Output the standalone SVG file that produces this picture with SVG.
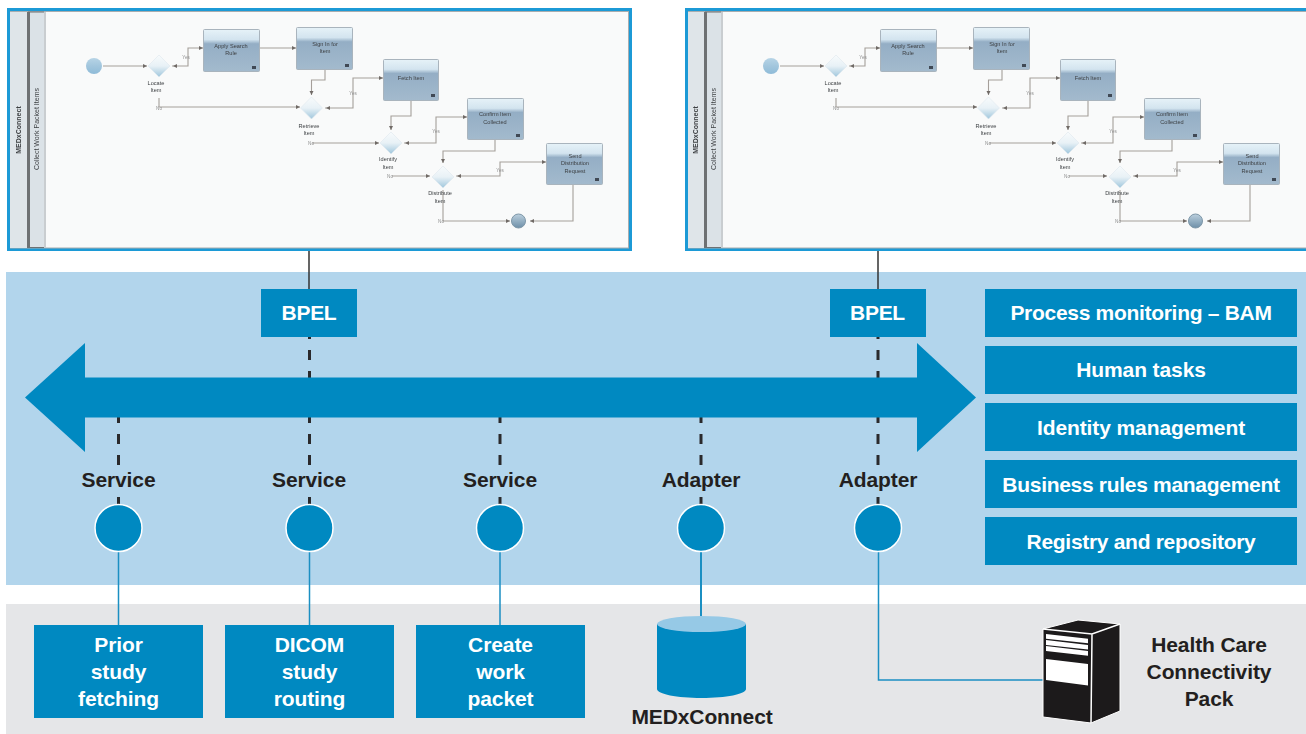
<svg xmlns="http://www.w3.org/2000/svg" width="1306" height="734" viewBox="0 0 1306 734">
<style>
text{font-family:"Liberation Sans",Arial,sans-serif}
.b{font-size:21px;font-weight:700;text-anchor:middle;letter-spacing:-.1px}
.c{letter-spacing:-.3px}
.w{fill:#fff}
.k{fill:#231f20}
.box{fill:#0089c1}
.dash{stroke:#2a2a2c;stroke-width:3;stroke-dasharray:10 11;fill:none}
.solid{stroke:#333;stroke-width:1.5;fill:none}
.link{stroke:#1b8fc2;stroke-width:1.5;fill:none}
.dot{fill:#0089c1;stroke:#fff;stroke-width:1.5}
.flow{fill:none;stroke:#a59f9a;stroke-width:1.1;marker-end:url(#ah)}
.yes{marker-start:url(#ahr)}
.task{fill:url(#tg);stroke:#a9b4bd;stroke-width:1}
.gw{fill:url(#gg);stroke:#dfe8ee;stroke-width:.6}
.t{font-size:5.6px;fill:#3c3f42;text-anchor:middle}
.l{font-size:4.6px;fill:#8f8f8f;text-anchor:middle}
.soft{filter:url(#bl)}
</style>
<defs>
<filter id="bl" x="-5%" y="-5%" width="110%" height="110%"><feGaussianBlur stdDeviation="0.5"/></filter>
<linearGradient id="tg" x1="0" y1="0" x2="0" y2="1">
<stop offset="0" stop-color="#e6f2f8"/><stop offset=".24" stop-color="#d3e4ef"/><stop offset=".34" stop-color="#94aec5"/><stop offset="1" stop-color="#a3bacd"/>
</linearGradient>
<linearGradient id="gg" x1="0" y1="0" x2="0" y2="1">
<stop offset="0" stop-color="#f8fbfc"/><stop offset=".5" stop-color="#e8f1f6"/><stop offset="1" stop-color="#9fc6dc"/>
</linearGradient>
<linearGradient id="sg" x1="0" y1="0" x2="0" y2="1">
<stop offset="0" stop-color="#b7d4e6"/><stop offset=".5" stop-color="#a2c6dd"/><stop offset="1" stop-color="#8fbbd8"/>
</linearGradient>
<linearGradient id="eg" x1="0" y1="0" x2="0" y2="1">
<stop offset="0" stop-color="#bcd0de"/><stop offset="1" stop-color="#6d8fa8"/>
</linearGradient>
<marker id="ah" markerWidth="5" markerHeight="5" refX="4" refY="2" orient="auto" markerUnits="userSpaceOnUse"><path d="M0 0L4 2L0 4z" fill="#6f6a66"/></marker>
<marker id="ahr" markerWidth="5" markerHeight="5" refX="-1" refY="2" orient="auto" markerUnits="userSpaceOnUse" overflow="visible"><path d="M4 0L0 2L4 4z" fill="#6f6a66"/></marker>
</defs>

<rect width="1306" height="734" fill="#fff"/>
<rect id="bus-band" x="6" y="272" width="1300" height="313" fill="#b2d5ec"/>
<rect id="resource-band" x="6" y="604" width="1300" height="130" fill="#e5e6e8"/>

<g id="connectors">
<path class="solid" d="M309 251V289M878 251V289"/>
<path class="dash" d="M309.500 329V465M878 329V465"/>
<path class="dash" d="M118.500 413V465M500 413V465M701 413V465"/>
<path class="dash" style="stroke-dasharray:none" d="M118.500 497V505M309.500 497V505M500 497V505M701 497V505M878 497V505"/>
<path class="link" d="M118.500 552V625M309.500 552V625M500 552V625"/>
<path class="link" style="stroke-width:2" d="M701 552V618"/>
<path class="link" d="M878.500 552V680H1043"/>
</g>

<path id="bus-arrow" class="box" d="M25 397.500L85 343V377.500H917V343L976 397.500L917 452V417.500H85V452Z"/>

<g id="panel-1" class="soft">
<rect x="8.500" y="9.500" width="622" height="240" fill="#f9fafa" stroke="#1c9ad6" stroke-width="3"/>
<rect x="10.500" y="11.500" width="618" height="236.500" fill="none" stroke="#a9adaf" stroke-width="1"/>
<rect x="10" y="12" width="17" height="236" fill="#dfe5e9"/>
<rect x="27" y="12" width="3" height="236" fill="#6e7173"/>
<rect x="30" y="12" width="14" height="236" fill="#dbe2e7"/>
<rect x="44" y="12" width="2" height="236" fill="#c9cdd0"/>
<path d="M28 12H44M28 247.500H44" stroke="#6e7173" stroke-width="1"/>
<text class="t" style="font-weight:700;font-size:7px" transform="translate(21,130) rotate(-90)">MEDxConnect</text>
<text class="t" style="font-size:7px" transform="translate(39,129) rotate(-90)">Collect Work Packet Items</text>
<g>
<path class="flow" d="M103 66H147"/>
<path class="flow yes" d="M172 66H188V48H203"/>
<path class="flow" d="M159 98V107H300"/>
<path class="flow" d="M260 48H296"/>
<path class="flow" d="M325 70V80H311.500V95"/>
<path class="flow yes" d="M325 108H353V78H383"/>
<path class="flow" d="M312 143H379"/>
<path class="flow" d="M411 100V116H391V130"/>
<path class="flow yes" d="M404 143H436V117H467"/>
<path class="flow" d="M392 176H430"/>
<path class="flow" d="M495 140V151H443V163"/>
<path class="flow yes" d="M456 176H500V162H546"/>
<path class="flow" d="M443 190V221H510"/>
<path class="flow" d="M573 185V221H530"/>
</g>
<circle cx="94" cy="66" r="8" fill="url(#sg)"/>
<circle cx="518.500" cy="221" r="7" fill="url(#eg)" stroke="#7e97a8"/>
<path class="gw" d="M159 55L170 66L159 77L148 66Z"/>
<path class="gw" d="M311.500 97L322.500 108L311.500 119L300.500 108Z"/>
<path class="gw" d="M391 132L402 143L391 154L380 143Z"/>
<path class="gw" d="M443 166L454 177L443 188L432 177Z"/>
<rect class="task" x="203.500" y="29.500" width="56" height="42" rx="1"/>
<rect class="task" x="296.500" y="27.500" width="56" height="42" rx="1"/>
<rect class="task" x="383.500" y="59.500" width="55" height="41" rx="1"/>
<rect class="task" x="467.500" y="98.500" width="56" height="41" rx="1"/>
<rect class="task" x="546.500" y="143.500" width="56" height="41" rx="1"/>
<path fill="#3f4a55" d="M252 66h4v3h-4zM345 64h4v3h-4zM431 94h4v3h-4zM516 134h4v3h-4zM595 178h4v3h-4z"/>
<text class="t" x="231" y="48">Apply Search</text><text class="t" x="231" y="55">Rule</text>
<text class="t" x="325" y="46">Sign In for</text><text class="t" x="325" y="53">Item</text>
<text class="t" x="411" y="80">Fetch Item</text>
<text class="t" x="495" y="116">Confirm Item</text><text class="t" x="495" y="124">Collected</text>
<text class="t" x="575" y="158">Send</text><text class="t" x="575" y="165">Distribution</text><text class="t" x="575" y="173">Request</text>
<text class="t" x="156" y="85">Locate</text><text class="t" x="156" y="92">Item</text>
<text class="t" x="309" y="128">Retrieve</text><text class="t" x="309" y="135">Item</text>
<text class="t" x="388" y="161">Identify</text><text class="t" x="388" y="169">Item</text>
<text class="t" x="440" y="195">Distribute</text><text class="t" x="440" y="203">Item</text>
<text class="l" x="186" y="59">Yes</text><text class="l" x="353" y="95">Yes</text><text class="l" x="436" y="133">Yes</text><text class="l" x="500" y="172">Yes</text>
<text class="l" x="159" y="110">No</text><text class="l" x="311" y="145">No</text><text class="l" x="390" y="178">No</text><text class="l" x="441" y="223">No</text>
</g>

<g id="panel-2" class="soft" transform="translate(677,0)">
<rect x="9.500" y="9.500" width="622" height="240" fill="#f9fafa" stroke="#1c9ad6" stroke-width="3"/>
<rect x="11.500" y="11.500" width="618" height="236.500" fill="none" stroke="#a9adaf" stroke-width="1"/>
<rect x="11" y="12" width="16" height="236" fill="#dfe5e9"/>
<rect x="27" y="12" width="3" height="236" fill="#6e7173"/>
<rect x="30" y="12" width="14" height="236" fill="#dbe2e7"/>
<rect x="44" y="12" width="2" height="236" fill="#c9cdd0"/>
<path d="M28 12H44M28 247.500H44" stroke="#6e7173" stroke-width="1"/>
<text class="t" style="font-weight:700;font-size:7px" transform="translate(21,130) rotate(-90)">MEDxConnect</text>
<text class="t" style="font-size:7px" transform="translate(39,129) rotate(-90)">Collect Work Packet Items</text>
<g>
<path class="flow" d="M103 66H147"/>
<path class="flow yes" d="M172 66H188V48H203"/>
<path class="flow" d="M159 98V107H300"/>
<path class="flow" d="M260 48H296"/>
<path class="flow" d="M325 70V80H311.500V95"/>
<path class="flow yes" d="M325 108H353V78H383"/>
<path class="flow" d="M312 143H379"/>
<path class="flow" d="M411 100V116H391V130"/>
<path class="flow yes" d="M404 143H436V117H467"/>
<path class="flow" d="M392 176H430"/>
<path class="flow" d="M495 140V151H443V163"/>
<path class="flow yes" d="M456 176H500V162H546"/>
<path class="flow" d="M443 190V221H510"/>
<path class="flow" d="M573 185V221H530"/>
</g>
<circle cx="94" cy="66" r="8" fill="url(#sg)"/>
<circle cx="518.500" cy="221" r="7" fill="url(#eg)" stroke="#7e97a8"/>
<path class="gw" d="M159 55L170 66L159 77L148 66Z"/>
<path class="gw" d="M311.500 97L322.500 108L311.500 119L300.500 108Z"/>
<path class="gw" d="M391 132L402 143L391 154L380 143Z"/>
<path class="gw" d="M443 166L454 177L443 188L432 177Z"/>
<rect class="task" x="203.500" y="29.500" width="56" height="42" rx="1"/>
<rect class="task" x="296.500" y="27.500" width="56" height="42" rx="1"/>
<rect class="task" x="383.500" y="59.500" width="55" height="41" rx="1"/>
<rect class="task" x="467.500" y="98.500" width="56" height="41" rx="1"/>
<rect class="task" x="546.500" y="143.500" width="56" height="41" rx="1"/>
<path fill="#3f4a55" d="M252 66h4v3h-4zM345 64h4v3h-4zM431 94h4v3h-4zM516 134h4v3h-4zM595 178h4v3h-4z"/>
<text class="t" x="231" y="48">Apply Search</text><text class="t" x="231" y="55">Rule</text>
<text class="t" x="325" y="46">Sign In for</text><text class="t" x="325" y="53">Item</text>
<text class="t" x="411" y="80">Fetch Item</text>
<text class="t" x="495" y="116">Confirm Item</text><text class="t" x="495" y="124">Collected</text>
<text class="t" x="575" y="158">Send</text><text class="t" x="575" y="165">Distribution</text><text class="t" x="575" y="173">Request</text>
<text class="t" x="156" y="85">Locate</text><text class="t" x="156" y="92">Item</text>
<text class="t" x="309" y="128">Retrieve</text><text class="t" x="309" y="135">Item</text>
<text class="t" x="388" y="161">Identify</text><text class="t" x="388" y="169">Item</text>
<text class="t" x="440" y="195">Distribute</text><text class="t" x="440" y="203">Item</text>
<text class="l" x="186" y="59">Yes</text><text class="l" x="353" y="95">Yes</text><text class="l" x="436" y="133">Yes</text><text class="l" x="500" y="172">Yes</text>
<text class="l" x="159" y="110">No</text><text class="l" x="311" y="145">No</text><text class="l" x="390" y="178">No</text><text class="l" x="441" y="223">No</text>
</g>

<g id="bpel-1"><rect class="box" x="261" y="289" width="96" height="48"/><text class="b w c" x="309" y="320">BPEL</text></g>
<g id="bpel-2"><rect class="box" x="830" y="289" width="96" height="48"/><text class="b w c" x="877.500" y="320">BPEL</text></g>

<g id="svc-1"><text class="b k" x="118.500" y="487">Service</text><circle class="dot" cx="118.500" cy="528" r="23.500"/></g>
<g id="svc-2"><text class="b k" x="309" y="487">Service</text><circle class="dot" cx="309.500" cy="528" r="23.500"/></g>
<g id="svc-3"><text class="b k" x="500" y="487">Service</text><circle class="dot" cx="500" cy="528" r="23.500"/></g>
<g id="adapter-1"><text class="b k" x="701" y="487">Adapter</text><circle class="dot" cx="701" cy="528" r="23.500"/></g>
<g id="adapter-2"><text class="b k" x="878" y="487">Adapter</text><circle class="dot" cx="878" cy="528" r="23.500"/></g>

<g id="cap-1"><rect class="box" x="985" y="289" width="312" height="48"/><text class="b w c" x="1141" y="320">Process monitoring – BAM</text></g>
<g id="cap-2"><rect class="box" x="985" y="346" width="312" height="48"/><text class="b w" x="1141" y="377">Human tasks</text></g>
<g id="cap-3"><rect class="box" x="985" y="403" width="312" height="48"/><text class="b w" x="1141" y="435">Identity management</text></g>
<g id="cap-4"><rect class="box" x="985" y="460" width="312" height="48"/><text class="b w c" x="1141" y="492">Business rules management</text></g>
<g id="cap-5"><rect class="box" x="985" y="517" width="312" height="48"/><text class="b w c" x="1141" y="549">Registry and repository</text></g>

<g id="prior"><rect class="box" x="34" y="625" width="169" height="93"/><text class="b w" x="118.500" y="652">Prior</text><text class="b w" x="118.500" y="679">study</text><text class="b w" x="118.500" y="706">fetching</text></g>
<g id="dicom"><rect class="box" x="225" y="625" width="169" height="93"/><text class="b w" x="309.500" y="652">DICOM</text><text class="b w" x="309.500" y="679">study</text><text class="b w" x="309.500" y="706">routing</text></g>
<g id="packet"><rect class="box" x="416" y="625" width="169" height="93"/><text class="b w" x="500.500" y="652">Create</text><text class="b w" x="500.500" y="679">work</text><text class="b w" x="500.500" y="706">packet</text></g>

<g id="medxconnect">
<path class="box" d="M657 624V689C657 694 677 698 701.500 698S746 694 746 689V624Z"/>
<ellipse cx="701.500" cy="624" rx="44.500" ry="8" fill="#96c9e6"/>
<text class="b k" x="702" y="724">MEDxConnect</text>
</g>

<g id="hccp">
<path d="M1043 629L1078 620L1120 624V711L1091 723L1043 717Z" fill="#1c1a1b" stroke="#fff" stroke-width="1" stroke-linejoin="round"/>
<path d="M1043 629L1092 634L1120 624M1092 634L1091 723" fill="none" stroke="#fff" stroke-width="1.500"/>
<path fill="#fff" d="M1046 634L1088 638.700V643.300L1046 638.700ZM1046 640L1088 645V649.500L1046 645ZM1046 646L1088 651V655.700L1046 651ZM1046 659L1088 664V685.600L1046 680Z"/>
<text class="b k" x="1209" y="652">Health Care</text><text class="b k" x="1209" y="679">Connectivity</text><text class="b k" x="1209" y="706">Pack</text>
</g>
</svg>
